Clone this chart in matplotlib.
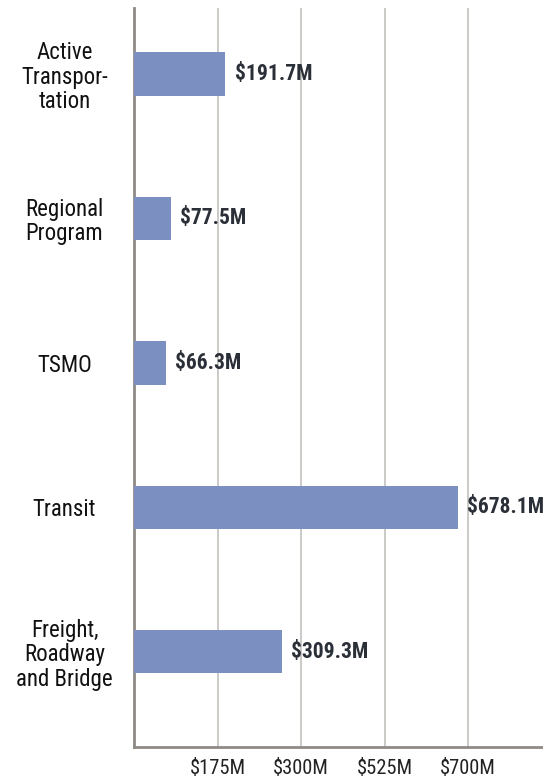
import matplotlib.pyplot as plt
from matplotlib import font_manager
import numpy as np

categories = ["Active\nTranspor-\ntation", "Regional\nProgram", "TSMO", "Transit",
              "Freight,\nRoadway\nand Bridge"]
values = [191.7, 77.5, 66.3, 678.1, 309.3]
value_labels = ["$191.7M", "$77.5M", "$66.3M", "$678.1M", "$309.3M"]
tick_values = [175, 350, 525, 700]
tick_labels = ["$175M", "$300M", "$525M", "$700M"]

# pick a narrow face if one is around
installed = {f.name for f in font_manager.fontManager.ttflist}
condensed = [f.name for f in font_manager.fontManager.ttflist
             if f.stretch in ("condensed", "semi-condensed", "extra-condensed")]
family = None
for name in ["Liberation Sans Narrow", "Roboto Condensed", "Open Sans Condensed",
             "DejaVu Sans Condensed"] + sorted(set(condensed)) + ["Roboto"]:
    if name in installed:
        family = name
        break
plt.rcParams['font.family'] = [family, 'DejaVu Sans']
stretch = "condensed" if family in condensed else "normal"

fig = plt.figure(figsize=(5.43, 7.78), dpi=100)
ax = fig.add_axes([134 / 543, 31 / 778, 1 - 134 / 543, (747 - 8) / 778])

y = np.arange(len(categories))
ax.barh(y, values, height=0.3, color="#7b8fc1", zorder=3)

for yi, v, lab in zip(y, values, value_labels):
    ax.annotate(lab, (v, yi), xytext=(6.5, 0), textcoords="offset points",
                ha="left", va="center", fontsize=15.5, fontweight="bold",
                fontstretch=stretch, color="#2b3038", zorder=4)

ax.set_ylim(4.66, -0.457)
ax.set_xlim(0, 857)

ax.set_yticks(y)
ax.set_yticklabels(categories, fontsize=16.5, color="#111111", fontstretch=stretch,
                   linespacing=1.08)
for t in ax.get_yticklabels():
    t.set_ha("center")
    t.set_multialignment("center")
ax.tick_params(axis="y", length=0, pad=50)

ax.set_xticks(tick_values)
ax.set_xticklabels(tick_labels, fontsize=14.8, color="#222222", fontstretch=stretch)
ax.tick_params(axis="x", length=0, pad=9)

ax.grid(axis="x", color="#c4c1bd", linewidth=1.2, zorder=0)
for s in ["top", "right"]:
    ax.spines[s].set_visible(False)
for s in ["left", "bottom"]:
    ax.spines[s].set_color("#8e8a86")
    ax.spines[s].set_linewidth(2)

fig.savefig("out.png", dpi=100)
